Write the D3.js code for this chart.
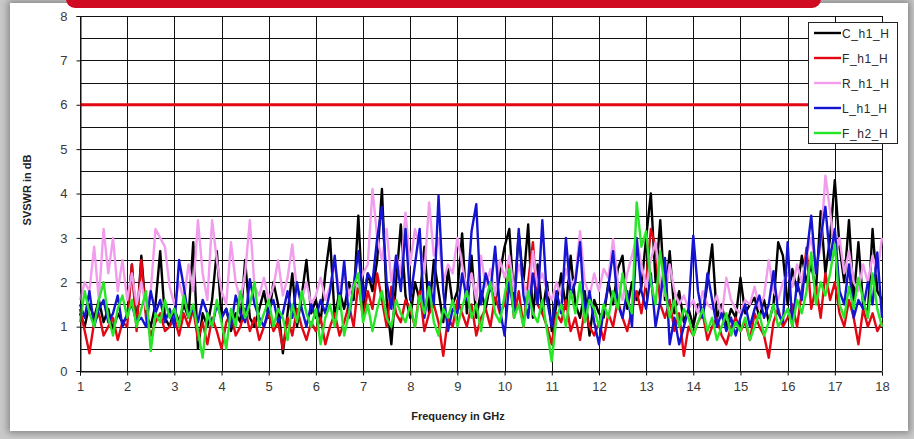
<!DOCTYPE html>
<html><head><meta charset="utf-8">
<script src="https://cdn.jsdelivr.net/npm/d3@7"></script>
<style>
html,body{margin:0;padding:0;width:914px;height:439px;overflow:hidden;background:#c9c9c9;}
#card{position:absolute;left:10px;top:3px;width:898px;height:428px;background:#fff;box-shadow:0 0 7px 2px rgba(0,0,0,0.35);}
#bar{position:absolute;left:66px;top:-14px;width:755px;height:22px;background:#cf0a21;border-radius:9px;}
svg{position:absolute;left:0;top:0;}
</style></head><body>
<div id="card"></div><div id="bar"></div>
<svg id="chart" width="914" height="439"></svg>
<script>
// ---- data ----
const freqStart = 1, freqStep = 0.1;   // sampling grid in GHz
const xTicks = [1,2,3,4,5,6,7,8,9,10,11,12,13,14,15,16,17,18];
const yTicks = [0,1,2,3,4,5,6,7,8];
const limitValue = 6;
const seriesNames = ["C_h1_H","F_h1_H","R_h1_H","L_h1_H","F_h2_H"];
const C_h1_H = [
1.3,1.0,1.5,1.2,1.6,1.1,1.4,0.9,1.3,1.1,
1.2,2.4,1.0,2.6,1.3,1.0,1.5,2.7,1.2,1.0,
1.4,1.1,1.5,1.2,2.9,0.5,1.3,1.0,1.6,2.7,
1.2,1.4,0.9,1.3,1.1,2.5,1.2,1.0,1.4,1.8,
1.2,2.0,1.5,0.4,1.3,2.2,1.0,1.7,2.5,1.3,
1.6,1.1,2.2,3.0,1.2,1.8,1.4,2.0,1.6,3.5,
1.4,2.2,1.8,2.5,4.1,1.6,0.6,2.0,3.3,1.7,
1.2,2.0,1.6,2.8,1.3,2.5,1.8,1.1,2.3,1.5,
1.8,3.1,1.3,2.6,1.2,1.8,1.4,2.0,1.5,2.2,
2.8,3.2,1.6,3.1,2.0,3.3,1.2,2.4,1.3,2.0,
0.9,1.5,2.2,1.4,2.6,1.5,1.2,1.8,0.8,1.6,
1.3,1.2,2.0,1.5,2.3,2.6,1.4,2.0,1.6,1.9,
3.0,4.0,2.0,3.4,1.6,2.7,1.3,1.8,1.1,1.4,
1.0,1.5,1.2,2.0,2.85,1.2,1.5,1.0,1.4,1.2,
2.1,1.3,1.5,1.65,1.2,1.6,1.1,1.5,2.9,2.6,
1.5,2.3,1.8,2.6,2.0,2.4,1.8,3.6,2.2,3.0,
4.3,2.8,2.0,3.4,1.6,2.9,1.5,1.3,3.2,1.8,
1.6];
const F_h1_H = [
1.4,0.9,0.4,1.1,1.3,0.8,1.0,1.2,0.7,1.1,
1.0,2.4,0.9,2.5,1.2,0.8,1.1,1.3,0.9,1.0,
1.2,0.8,1.3,1.0,1.4,0.7,1.1,0.6,1.2,0.9,
0.5,1.1,1.3,0.8,1.0,1.4,0.9,1.2,0.7,1.0,
1.3,0.9,1.1,0.5,1.2,0.8,1.4,1.0,0.7,1.1,
0.9,1.2,0.6,1.0,1.3,0.8,1.1,1.5,1.0,2.0,
1.2,1.8,1.4,2.2,1.6,1.0,1.9,1.3,1.1,1.6,
1.4,1.0,1.8,0.9,1.3,1.5,1.1,0.34,1.2,1.0,
1.6,1.3,1.0,1.5,0.8,1.2,1.4,1.0,1.7,1.3,
1.5,2.4,1.2,1.8,1.0,2.0,2.9,1.5,1.3,1.0,
0.6,1.3,1.1,1.6,0.9,1.2,0.7,1.4,1.0,0.8,
1.1,0.7,1.3,1.0,1.6,1.2,0.9,1.4,1.8,1.3,
2.0,3.2,2.8,1.5,1.2,1.6,0.9,1.3,0.34,1.0,
0.8,1.1,1.3,0.7,1.0,1.2,0.8,0.6,1.0,1.2,
0.9,1.1,0.7,1.3,1.0,0.8,0.3,1.1,1.4,1.0,
1.2,1.5,1.0,1.8,2.78,1.4,1.9,1.2,2.2,1.6,
2.0,1.3,1.0,1.6,1.2,0.6,1.4,1.0,1.3,0.9,
1.1];
const R_h1_H = [
1.6,2.0,1.8,2.8,1.6,3.2,2.2,3.0,1.8,2.5,
1.6,2.2,1.5,2.0,1.4,1.8,3.2,3.0,2.8,1.9,
1.5,2.0,1.6,2.4,1.8,3.4,2.2,1.6,3.4,2.5,
1.8,1.5,2.9,2.0,1.6,2.2,3.4,1.9,1.7,2.1,
1.6,1.9,2.5,1.7,2.1,2.85,1.8,1.6,2.0,1.5,
1.7,2.1,1.6,1.9,2.4,1.8,2.2,1.7,2.0,1.9,
2.2,2.4,4.1,3.0,2.5,3.2,2.0,2.6,2.2,3.57,
2.4,3.2,2.8,2.2,3.8,2.6,3.0,2.0,2.4,2.2,
3.0,2.4,1.8,2.2,1.6,2.6,1.9,2.3,1.7,2.5,
2.1,2.6,1.8,2.4,2.0,1.6,2.7,1.9,2.2,1.8,
1.6,2.0,1.7,2.3,1.9,2.1,3.15,2.0,1.7,2.2,
1.8,2.3,2.1,2.97,2.0,1.6,2.2,2.6,3.0,2.4,
1.9,2.5,2.9,2.0,1.7,2.4,1.8,1.5,1.7,1.4,
1.6,1.3,1.8,1.5,1.4,1.7,1.2,2.1,1.6,1.4,
1.3,1.6,1.5,1.9,1.4,1.7,2.5,1.8,1.6,2.0,
2.2,1.9,2.4,2.0,2.6,3.0,2.3,2.8,4.4,3.6,
2.6,3.0,2.2,2.7,2.0,1.8,2.4,2.0,2.6,2.2,
3.0];
const L_h1_H = [
1.5,1.2,1.8,1.0,1.4,1.6,1.1,1.3,1.7,1.0,
1.3,1.5,1.1,1.2,1.0,1.8,1.3,1.6,1.1,1.4,
1.0,2.5,1.9,1.2,1.4,1.1,1.6,1.3,1.0,1.5,
1.2,1.4,1.0,1.7,1.3,1.1,2.07,1.5,1.2,1.0,
1.4,1.6,1.1,1.3,1.8,1.2,2.0,1.4,1.0,1.5,
1.2,1.6,1.3,1.8,2.6,1.4,2.48,1.2,1.9,2.7,
1.6,2.2,2.0,3.0,3.7,2.0,1.4,2.6,1.8,3.2,
1.6,2.4,3.2,1.2,2.0,1.5,3.95,1.8,0.9,1.4,
1.3,2.2,1.6,3.15,3.76,1.5,2.2,1.8,2.8,1.4,
0.8,2.0,1.3,3.2,1.7,1.2,2.2,1.5,3.4,1.6,
1.0,1.8,1.3,3.0,1.7,2.0,2.9,1.2,1.8,1.1,
0.6,1.4,1.9,2.7,1.5,1.2,1.8,1.0,3.0,1.8,
1.4,2.2,1.0,1.6,2.55,0.6,1.2,0.6,1.0,1.4,
3.05,1.8,1.2,2.2,1.6,1.0,1.3,0.9,1.2,0.8,
1.2,1.5,1.0,1.4,1.7,1.2,1.5,2.25,1.3,1.1,
2.9,1.0,2.0,1.6,2.6,3.5,2.2,3.0,3.7,2.5,
3.2,1.8,1.5,2.4,1.2,1.6,1.4,2.0,1.5,2.67,
1.2];
const F_h2_H = [
1.1,1.8,1.3,1.0,1.6,2.0,1.2,0.8,1.4,1.7,
1.2,1.6,1.0,1.4,1.8,0.45,1.3,1.1,1.6,1.2,
1.4,1.0,1.7,1.2,1.5,0.9,0.3,1.3,1.0,1.6,
1.1,0.5,1.4,1.0,1.8,1.2,1.5,2.0,1.0,1.3,
1.6,1.0,1.4,1.2,0.7,1.5,1.1,1.8,1.3,1.0,
1.4,0.6,1.2,1.5,1.0,1.7,0.8,1.3,1.9,2.2,
1.1,1.5,0.9,1.4,1.8,1.2,1.0,1.6,1.3,1.1,
1.5,1.0,1.7,1.3,1.9,1.1,0.8,1.4,1.2,1.6,
1.0,1.43,1.8,1.2,1.5,0.9,1.6,2.0,1.3,1.1,
1.7,2.3,1.2,1.5,1.0,1.8,1.3,1.1,1.6,0.9,
0.22,1.2,1.5,1.0,1.8,1.3,2.0,1.1,1.6,1.4,
1.0,1.5,1.2,1.8,1.4,2.2,1.6,1.3,3.8,2.8,
3.15,2.0,1.5,2.7,1.8,1.2,1.6,1.0,1.4,1.2,
0.8,1.1,1.4,0.9,1.2,0.7,1.0,1.3,0.8,1.1,
0.9,1.2,0.7,1.0,1.3,0.8,1.1,1.5,1.0,1.2,
1.4,1.0,1.6,1.3,1.8,2.67,1.5,2.0,1.7,2.2,
2.86,1.5,1.2,1.9,1.4,2.1,1.6,1.2,2.2,1.4,
1.0];
const seriesValues = [C_h1_H, F_h1_H, R_h1_H, L_h1_H, F_h2_H];
const seriesColors = ["#000000","#e30613","#f19ced","#1414d2","#27e527"];

// ---- chart ----
const svg = d3.select("#chart");
const x = d3.scaleLinear().domain([1,18]).range([80,882]);
const y = d3.scaleLinear().domain([0,8]).range([371,16]);
const font = "'Liberation Sans', Arial, sans-serif";

const grid = svg.append("g");
grid.selectAll("line.h").data(d3.range(0,8.01,0.5)).join("line")
  .attr("x1",x(1)).attr("x2",x(18)).attr("y1",d=>Math.round(y(d))+0.5).attr("y2",d=>Math.round(y(d))+0.5)
  .attr("stroke","#111").attr("stroke-width",1);
grid.selectAll("line.v").data(xTicks).join("line")
  .attr("y1",y(0)).attr("y2",y(8)).attr("x1",d=>Math.round(x(d))+0.5).attr("x2",d=>Math.round(x(d))+0.5)
  .attr("stroke","#111").attr("stroke-width",1);

// limit line
svg.append("line").attr("x1",x(1)).attr("x2",808).attr("y1",y(limitValue)).attr("y2",y(limitValue))
  .attr("stroke","#e30613").attr("stroke-width",3);

const line = d3.line().x((d,i)=>x(freqStart+i*freqStep)).y(d=>y(d));
seriesValues.forEach((vals,k)=>{
  svg.append("path").datum(vals).attr("d",line).attr("fill","none")
    .attr("stroke",seriesColors[k]).attr("stroke-width",2.4).attr("stroke-linejoin","round");
});

// axes
const yAxis = svg.append("g").attr("transform",`translate(${Math.round(x(1))+0.5},0)`)
  .call(d3.axisLeft(y).tickValues(yTicks).tickSize(4).tickPadding(9).tickFormat(d3.format("d")));
const xAxis = svg.append("g").attr("transform",`translate(0,${Math.round(y(0))+0.5})`)
  .call(d3.axisBottom(x).tickValues(xTicks).tickSize(4).tickPadding(6).tickFormat(d3.format("d")));
[yAxis,xAxis].forEach(a=>{
  a.select(".domain").attr("stroke","#111");
  a.selectAll(".tick line").attr("stroke","#111");
  a.selectAll("text").attr("font-family",font).attr("font-size",13).attr("fill","#3a3a3a");
});

svg.append("text").attr("transform","translate(31,190) rotate(-90)").attr("text-anchor","middle")
  .attr("font-family",font).attr("font-weight","bold").attr("font-size",11).attr("fill","#222").text("SVSWR in dB");
svg.append("text").attr("x",458).attr("y",420).attr("text-anchor","middle")
  .attr("font-family",font).attr("font-weight","bold").attr("font-size",11).attr("fill","#222").text("Frequency in GHz");

// legend
const lg = svg.append("g");
lg.append("rect").attr("x",808.5).attr("y",22.5).attr("width",89).attr("height",121)
  .attr("fill","#fff").attr("stroke","#222").attr("stroke-width",1);
const ly = d3.scalePoint().domain(seriesNames).range([33,133]);
seriesNames.forEach((n,k)=>{
  lg.append("line").attr("x1",814).attr("x2",841).attr("y1",ly(n)).attr("y2",ly(n))
    .attr("stroke",seriesColors[k]).attr("stroke-width",2.4);
  lg.append("text").attr("x",842).attr("y",ly(n)+4.5).attr("font-family",font).attr("font-size",12)
    .attr("letter-spacing",0.6).attr("fill","#2a2a2a").text(n);
});
</script>
</body></html>
